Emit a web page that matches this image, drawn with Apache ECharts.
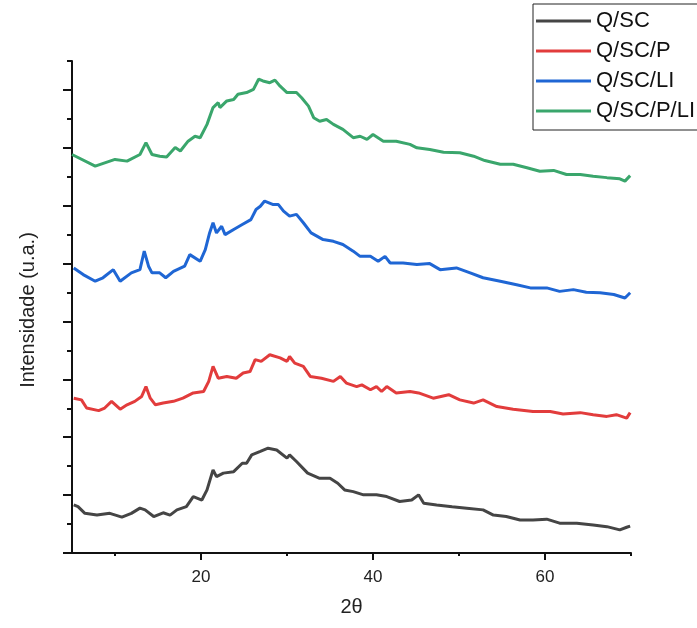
<!DOCTYPE html>
<html>
<head>
  <meta charset="utf-8">
  <title>Intensidade</title>
  <script src="https://cdn.jsdelivr.net/npm/echarts@6/dist/echarts.min.js"></script>
  <style>
    html, body { margin: 0; padding: 0; background: #fff; }
  </style>
</head>
<body>
  <div id="chart" style="width: 697px;height:628px;"></div>
  <script type="application/javascript">
      var names = ['Q/SC', 'Q/SC/P', 'Q/SC/LI', 'Q/SC/P/LI'];
      var colors = ['#454545', '#e23c3c', '#1f66d4', '#3aa66c'];
      var xLabels = [20, 40, 60];
      var xTicksMinor = [10, 30, 50, 70];

      // Q/SC
      var kX = [5.2,5.7,6.5,7.9,9.4,10.8,11.9,12.9,13.5,14.5,15.6,16.4,17.2,18.3,19.1,20.1,20.7,21.4,21.8,22.6,23.8,24.8,25.3,25.9,26.9,27.8,28.8,30,30.3,31.1,32.4,33.8,35,35.9,36.7,37.7,38.9,40.4,41.6,43.1,44.5,45.3,45.9,47.4,49.2,50.9,52.8,54,55.5,57.1,58.6,60.2,61.7,63.7,65.6,67.2,68.7,69.5,69.9];
      var kY = [1.66,1.60,1.37,1.31,1.37,1.24,1.37,1.55,1.49,1.26,1.39,1.31,1.49,1.60,1.95,1.83,2.18,2.87,2.64,2.76,2.81,3.10,3.10,3.39,3.51,3.62,3.56,3.28,3.39,3.16,2.76,2.58,2.58,2.41,2.18,2.12,2.01,2.01,1.95,1.78,1.83,2.01,1.72,1.66,1.60,1.55,1.49,1.31,1.26,1.14,1.14,1.17,1.03,1.03,0.97,0.91,0.80,0.89,0.93];

      // Q/SC/P
      var rX = [5.2,6.1,6.7,8.1,8.8,9.6,10.6,11.4,12.3,13.1,13.6,14.1,14.7,15.6,16.8,17.9,19.1,20.3,20.9,21.4,22,23,24.1,24.9,25.7,26.3,27.0,28,29.2,30,30.3,30.9,31.9,32.7,34.0,35.4,36.2,36.9,38.1,38.7,39.7,40.4,41.0,41.6,42.7,44.3,45.3,47,48.8,50.1,51.7,52.8,54.4,56.3,58.6,60.6,62.1,64.1,65.6,67.2,68.3,69.5,69.9];
      var rY = [5.35,5.29,5.01,4.92,5.01,5.24,4.97,5.12,5.24,5.41,5.75,5.35,5.12,5.18,5.24,5.35,5.53,5.58,5.93,6.45,6.04,6.10,6.04,6.22,6.27,6.68,6.62,6.85,6.74,6.62,6.79,6.56,6.45,6.10,6.04,5.93,6.10,5.87,5.75,5.81,5.64,5.75,5.58,5.75,5.53,5.58,5.53,5.35,5.47,5.29,5.18,5.29,5.06,4.97,4.89,4.89,4.80,4.85,4.78,4.72,4.78,4.66,4.85];

      // Q/SC/LI
      var bX = [5.2,6.3,7.7,8.6,9.8,10.6,11.9,12.9,13.4,13.9,14.3,15.2,15.9,16.8,18.1,18.7,19.9,20.5,21.0,21.4,21.8,22.4,22.8,23.8,24.8,25.8,26.4,26.9,27.4,28.4,29.0,29.6,30.3,31.1,31.9,32.8,34.2,35.4,36.5,37.7,38.5,39.7,40.6,41.4,42,43.5,45.1,46.6,47.8,49.7,51.3,52.8,54.8,56.7,58.3,60.2,61.7,63.3,64.8,66.4,68,69.3,69.9];
      var bY = [9.85,9.62,9.39,9.51,9.79,9.39,9.68,9.79,10.43,9.91,9.68,9.68,9.51,9.73,9.91,10.31,10.08,10.48,11.06,11.41,11.06,11.29,11.00,11.18,11.35,11.52,11.87,11.98,12.16,12.04,12.04,11.81,11.64,11.70,11.41,11.06,10.83,10.77,10.66,10.43,10.25,10.25,10.08,10.25,10.02,10.02,9.97,10.00,9.79,9.85,9.68,9.51,9.39,9.27,9.16,9.16,9.04,9.10,9.01,8.99,8.93,8.81,8.99];

      // Q/SC/P/LI
      var gX = [5,7.7,10,11.4,12.9,13.6,14.3,15.2,16,17,17.6,18.5,19.3,19.9,20.7,21.4,22,22.2,23,23.8,24.3,25.3,26.1,26.7,27.2,28,28.6,29.2,30,31.1,31.7,32.5,33.1,33.8,34.6,35.4,36.5,37.7,38.5,39.3,40,41.2,42.7,44.3,45.1,46.6,48.2,50.1,51.7,53,54.8,56.3,57.9,59.4,61,62.5,64.1,65.6,67.2,68.7,69.3,69.9];
      var gY = [13.77,13.37,13.60,13.54,13.77,14.18,13.77,13.71,13.68,14.01,13.89,14.23,14.40,14.35,14.81,15.39,15.56,15.39,15.62,15.67,15.85,15.91,16.02,16.37,16.31,16.25,16.34,16.13,15.91,15.91,15.73,15.44,15.04,14.92,14.98,14.81,14.64,14.35,14.40,14.29,14.46,14.23,14.23,14.12,14.00,13.94,13.85,13.83,13.71,13.56,13.43,13.43,13.31,13.19,13.22,13.08,13.08,13.02,12.97,12.93,12.85,13.04];

      function pairs(xs, ys) {
          var out = [];
          for (var i = 0; i < xs.length; i++) out.push([xs[i], ys[i]]);
          return out;
      }

      var allData = [pairs(kX, kY), pairs(rX, rY), pairs(bX, bY), pairs(gX, gY)];
      var evenTicks = [];
      for (var t = 0; t <= 16; t += 2) evenTicks.push(t);

      var font = '"Liberation Sans", Arial, sans-serif';
      var myChart = echarts.init(document.getElementById('chart'));
      myChart.setOption({
          animation: false,
          backgroundColor: '#fff',
          grid: { left: 72, top: 61, width: 559, height: 492 },
          legend: {
              data: names,
              orient: 'vertical',
              left: 533,
              top: 4,
              icon: 'rect',
              itemWidth: 55,
              itemHeight: 3,
              itemGap: 8,
              padding: [6, 5, 8, 3],
              borderColor: '#222',
              borderWidth: 1,
              textStyle: { fontFamily: font, fontSize: 22, lineHeight: 22, color: '#111' }
          },
          graphic: [{
              type: 'text',
              x: 28,
              y: 310,
              rotation: Math.PI / 2,
              style: {
                  text: 'Intensidade (u.a.)',
                  textAlign: 'center',
                  textVerticalAlign: 'middle',
                  font: '20px ' + font,
                  fill: '#222'
              }
          }],
          xAxis: [{
              type: 'value',
              min: 5,
              max: 70,
              name: '2θ',
              nameLocation: 'middle',
              nameGap: 44,
              nameTextStyle: { fontFamily: font, fontSize: 20, color: '#222' },
              axisLine: { lineStyle: { color: '#111', width: 2 } },
              axisTick: { customValues: xLabels, length: 7, lineStyle: { width: 2, color: '#111' } },
              axisLabel: { customValues: xLabels, margin: 16, fontFamily: font, fontSize: 17, color: '#222' },
              splitLine: { show: false }
          }, {
              type: 'value',
              min: 5,
              max: 70,
              position: 'bottom',
              axisLine: { show: false },
              axisTick: { customValues: xTicksMinor, length: 3, lineStyle: { width: 2, color: '#111' } },
              axisLabel: { show: false },
              splitLine: { show: false }
          }],
          yAxis: [{
              type: 'value',
              min: 0,
              max: 17,
              interval: 1,
              axisLine: { show: true, lineStyle: { color: '#111', width: 2 } },
              axisTick: { show: true, length: 5, lineStyle: { width: 2, color: '#111' } },
              axisLabel: { show: false },
              splitLine: { show: false }
          }, {
              type: 'value',
              min: 0,
              max: 17,
              position: 'left',
              axisLine: { show: false },
              axisTick: { show: true, customValues: evenTicks, length: 9, lineStyle: { width: 2, color: '#111' } },
              axisLabel: { show: false },
              splitLine: { show: false }
          }],
          series: names.map(function (n, i) {
              return {
                  name: n,
                  type: 'line',
                  data: allData[i],
                  showSymbol: false,
                  color: colors[i],
                  lineStyle: { width: 3, color: colors[i] }
              };
          })
      });
  </script>
</body>
</html>
